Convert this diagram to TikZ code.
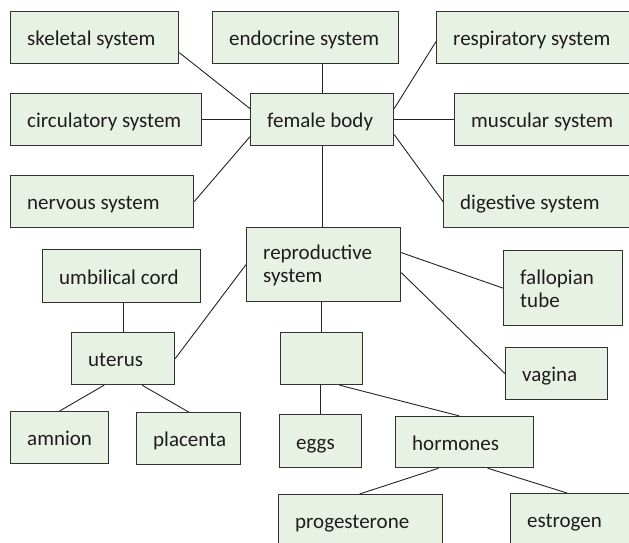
\documentclass[tikz,border=0pt]{standalone}
\usepackage{fontspec}
\setmainfont{Carlito}
\begin{document}
\begin{tikzpicture}[x=1pt,y=-1pt,
  box/.style={draw=boxline,fill=boxfill,line width=1.2pt,anchor=north west,inner sep=0pt},
  lbl/.style={anchor=west,inner sep=0pt,align=left,font=\fontsize{21}{23}\selectfont,text=txt,text height=19pt,text depth=3pt},
  lbltwo/.style={anchor=west,inner sep=0pt,align=left,font=\fontsize{21}{23}\selectfont,text=txt},
  link/.style={draw=linkcol,line width=0.9pt}]
\definecolor{boxfill}{RGB}{232,242,228}
\definecolor{boxline}{RGB}{50,50,50}
\definecolor{linkcol}{RGB}{35,35,35}
\definecolor{txt}{RGB}{30,28,28}
\path[use as bounding box] (0,0) rectangle (629,542);
\clip (0,0) rectangle (629,542);
% boxes: name, x1, y1, w, h, text
\newcommand{\bx}[6]{\node[box,minimum width=#4pt,minimum height=#5pt] (#1) at (#2,#3) {};
  \node[lbl] (#1-t) at ([xshift=17pt]#1.west) {#6};}
\newcommand{\bxtwo}[6]{\node[box,minimum width=#4pt,minimum height=#5pt] (#1) at (#2,#3) {};
  \node[lbltwo] (#1-t) at ([xshift=17pt,yshift=-1pt]#1.west) {#6};}
\bx{skel}{10}{11}{168}{52}{skeletal system}
\bx{endo}{212}{11}{186}{52}{endocrine system}
\bx{resp}{436}{11}{210}{52}{respiratory system}
\bx{circ}{10}{93}{191}{52}{circulatory system}
\bx{fb}{250}{93}{143}{52}{female body}
\bx{musc}{454}{93}{190}{52}{muscular system}
\bx{nerv}{10}{175}{183}{52}{nervous system}
\bx{dig}{443}{175}{200}{52}{digestive system}
\bx{umb}{42}{249}{158}{53}{umbilical cord}
\bxtwo{repro}{246}{227}{154}{74}{reproductive\\system}
\bxtwo{fall}{503}{250}{119}{75}{fallopian\\tube}
\bx{uter}{71}{332}{103}{52}{uterus}
\node[box,minimum width=82pt,minimum height=52pt] (blank) at (280,332) {};
\bx{vag}{505}{347}{102}{52}{vagina}
\bx{amn}{10}{411}{98}{52}{amnion}
\bx{plac}{136}{412}{104}{52}{placenta}
\bx{eggs}{279}{414}{82}{53}{eggs}
\bx{horm}{395}{416}{138}{51}{hormones}
\bx{prog}{278}{494}{164}{52}{progesterone}
\bx{estr}{510}{493}{140}{52}{estrogen}
% connectors
\draw[link] ([yshift=-15pt]skel.east) -- ([yshift=11pt]fb.west);
\draw[link] (circ.east) -- (fb.west);
\draw[link] (nerv.east) -- ([yshift=-17pt]fb.west);
\draw[link] (fb.north) -- (fb.north |- endo.south);
\draw[link] ([yshift=-4pt]resp.west) -- ([yshift=11pt]fb.east);
\draw[link] (musc.west) -- (fb.east);
\draw[link] (dig.west) -- ([yshift=-15pt]fb.east);
\draw[link] (fb.south) -- (fb.south |- repro.north);
\draw[link] (uter.north) -- (uter.north |- umb.south);
\draw[link] (uter.east) -- (repro.west);
\draw[link] ([xshift=-19pt]uter.south) -- (amn.north);
\draw[link] ([xshift=19pt]uter.south) -- (plac.north);
\draw[link] (blank.north) -- (blank.north |- repro.south);
\draw[link] ([yshift=12pt]repro.east) -- (fall.west);
\draw[link] ([yshift=-8pt]repro.east) -- (vag.west);
\draw[link] (eggs.north) -- (eggs.north |- blank.south);
\draw[link] ([xshift=18pt]blank.south) -- ([xshift=-5pt]horm.north);
\draw[link] ([xshift=-26pt]horm.south) -- ([xshift=-1pt]prog.north);
\draw[link] ([xshift=23pt]horm.south) -- ([xshift=57pt]estr.north west);
\end{tikzpicture}
\end{document}
